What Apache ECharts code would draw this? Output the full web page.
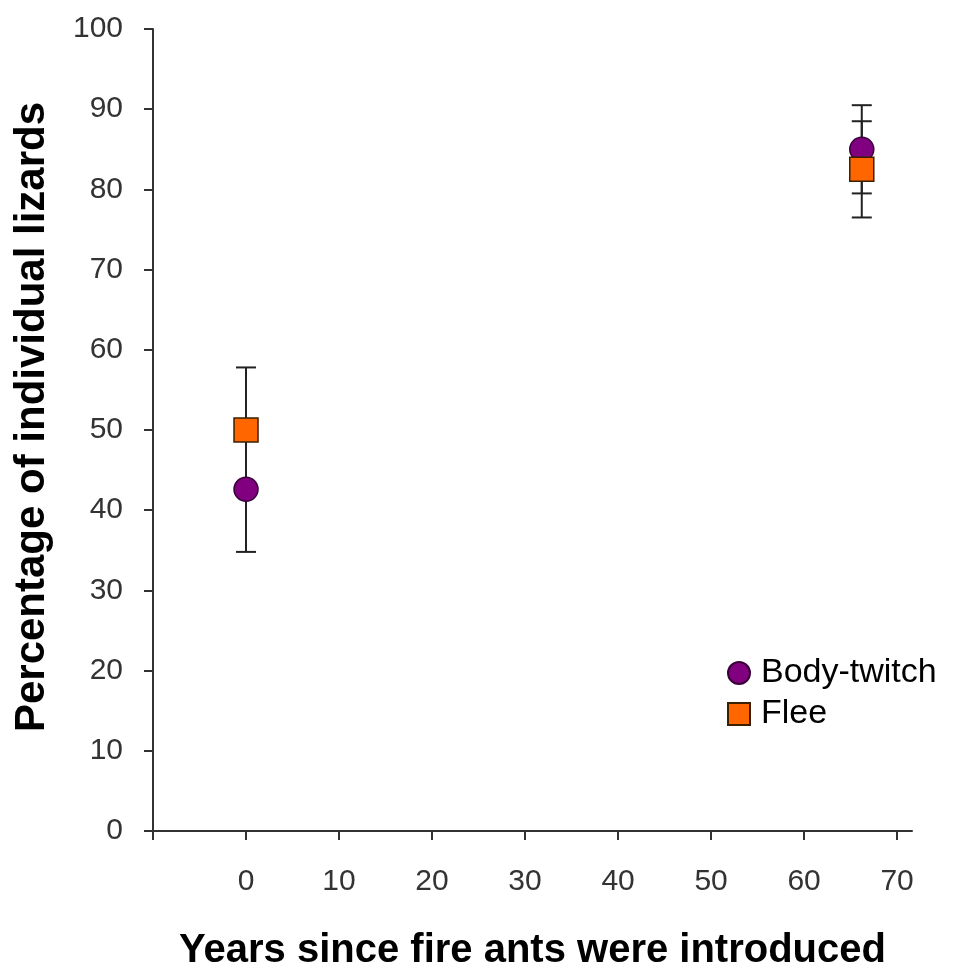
<!DOCTYPE html>
<html>
<head>
<meta charset="utf-8">
<script src="https://cdn.jsdelivr.net/npm/echarts@6/dist/echarts.min.js"></script>
<style>
html,body{margin:0;padding:0;background:#fff;}
#main{width:956px;height:972px;}
</style>
</head>
<body>
<div id="main"></div>
<script>
// Data
const years = [0, 66.2];
const bodyTwitch = [42.6, 85.0];
const bodyTwitchErr = [7.8, 5.5];
const flee = [50.0, 82.5];
const fleeErr = [7.8, 6.0];
const xTicks = [-10, 0, 10, 20, 30, 40, 50, 60, 70];
const xLabels = [0, 10, 20, 30, 40, 50, 60, 70];

const chart = echarts.init(document.getElementById('main'));

function errData(vals, errs) {
  return years.map((x, i) => [x, vals[i] - errs[i], vals[i] + errs[i]]);
}
function errRender(params, api) {
  const x = api.value(0);
  const lo = api.coord([x, api.value(1)]);
  const hi = api.coord([x, api.value(2)]);
  const hw = 10;
  const style = {stroke: '#222', lineWidth: 2};
  return {
    type: 'group',
    children: [
      {type: 'line', shape: {x1: lo[0], y1: lo[1], x2: hi[0], y2: hi[1]}, style: style},
      {type: 'line', shape: {x1: lo[0] - hw, y1: lo[1], x2: lo[0] + hw, y2: lo[1]}, style: style},
      {type: 'line', shape: {x1: hi[0] - hw, y1: hi[1], x2: hi[0] + hw, y2: hi[1]}, style: style}
    ]
  };
}

const axisColor = '#333';
const tickFont = {fontFamily: 'Liberation Sans, Arial, sans-serif', fontSize: 30, color: '#333'};

chart.setOption({
  animation: false,
  backgroundColor: '#fff',
  grid: {left: 153, right: 44, top: 29, bottom: 141, containLabel: false, outerBoundsMode: 'none'},
  xAxis: {
    type: 'value',
    min: -10,
    max: 71.6,
    splitLine: {show: false},
    axisLine: {onZero: false, lineStyle: {color: axisColor, width: 2}},
    axisTick: {show: true, length: 9, lineStyle: {color: axisColor, width: 2}, customValues: xTicks},
    axisLabel: Object.assign({margin: 36, customValues: xLabels}, tickFont),
    name: 'Years since fire ants were introduced',
    nameLocation: 'middle',
    nameGap: 100,
    nameTextStyle: {fontFamily: 'Liberation Sans, Arial, sans-serif', fontWeight: 'bold', fontSize: 40, color: '#000'}
  },
  yAxis: {
    type: 'value',
    min: 0,
    max: 100,
    interval: 10,
    splitLine: {show: false},
    axisLine: {onZero: false, lineStyle: {color: axisColor, width: 2}},
    axisTick: {show: true, length: 9, lineStyle: {color: axisColor, width: 2}},
    axisLabel: Object.assign({margin: 30}, tickFont),
    name: 'Percentage of individual lizards',
    nameLocation: 'middle',
    nameGap: 100,
    nameTextStyle: {fontFamily: 'Liberation Sans, Arial, sans-serif', fontWeight: 'bold', fontSize: 42, color: '#000', padding: [0, 0, 0, 26]}
  },
  legend: {
    orient: 'vertical',
    left: 722,
    top: 651,
    itemWidth: 22,
    itemHeight: 22,
    itemGap: 7,
    data: ['Body-twitch', 'Flee'],
    textStyle: {fontFamily: 'Liberation Sans, Arial, sans-serif', fontSize: 34, color: '#000', padding: [0, 0, 0, 6]}
  },
  series: [
    {name: 'BT err', type: 'custom', renderItem: errRender, data: errData(bodyTwitch, bodyTwitchErr), z: 1, silent: true},
    {name: 'Flee err', type: 'custom', renderItem: errRender, data: errData(flee, fleeErr), z: 1, silent: true},
    {
      name: 'Body-twitch', type: 'scatter', symbol: 'circle', symbolSize: 24, z: 3,
      itemStyle: {color: '#800080', borderColor: '#3a003a', borderWidth: 1.5, opacity: 1},
      data: years.map((x, i) => [x, bodyTwitch[i]])
    },
    {
      name: 'Flee', type: 'scatter', symbol: 'rect', symbolSize: 24, z: 4,
      itemStyle: {color: '#FF6600', borderColor: '#3a2000', borderWidth: 1.5, opacity: 1},
      data: years.map((x, i) => [x, flee[i]])
    }
  ]
});
</script>
</body>
</html>
